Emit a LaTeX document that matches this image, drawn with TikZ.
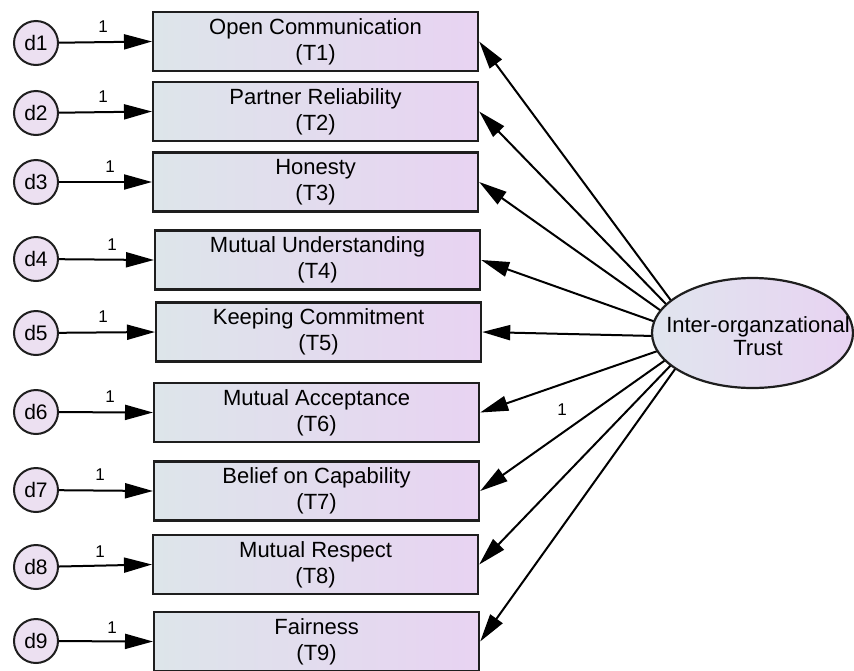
\documentclass[tikz,border=0pt]{standalone}
\usepackage{fontspec}
\setmainfont{Liberation Sans}
\usetikzlibrary{arrows.meta,shapes.geometric,backgrounds}
\definecolor{boxL}{HTML}{DDE5EA}
\definecolor{boxR}{HTML}{E8D3F2}
\definecolor{latL}{HTML}{E0E5EE}
\definecolor{latR}{HTML}{E8D3F2}
\definecolor{errfill}{HTML}{ECE0F1}
\definecolor{edge}{HTML}{1E1E1E}

\begin{document}
\begin{tikzpicture}[x=1pt,y=-1pt,
  obs/.style={draw=edge,line width=2.2pt,left color=boxL,right color=boxR,
    minimum width=325pt,minimum height=59pt,inner sep=0pt,align=center,
    anchor=west,font=\fontsize{22}{26}\selectfont},
  err/.style={circle,draw=edge,line width=2pt,fill=errfill,
    minimum size=44pt,inner sep=0pt,font=\fontsize{21}{25}\selectfont},
  lat/.style={ellipse,draw=edge,line width=2.2pt,left color=latL,right color=latR,
    minimum width=201pt,minimum height=110pt,inner sep=0pt},
  lattext/.style={align=center,inner sep=0pt,font=\fontsize{22}{23}\selectfont},
  reg/.style={line width=2pt,draw=black,-{Triangle[length=28pt,width=15pt]}},
  one/.style={inner sep=0pt,font=\fontsize{17}{17}\selectfont}]

\useasboundingbox (0,0) rectangle (854,670);

% observed indicators
\node[obs] (T1) at (152,41.5)  {Open Communication\\(T1)};
\node[obs] (T2) at (152,111.5) {Partner Reliability\\(T2)};
\node[obs] (T3) at (152,182)   {Honesty\\(T3)};
\node[obs] (T4) at (154,260)   {Mutual Understanding\\(T4)};
\node[obs] (T5) at (155,332)   {Keeping Commitment\\(T5)};
\node[obs] (T6) at (153,412.5) {Mutual Acceptance\\(T6)};
\node[obs] (T7) at (153,491)   {Belief on Capability\\(T7)};
\node[obs] (T8) at (152,564.5) {Mutual Respect\\(T8)};
\node[obs] (T9) at (153,641.5) {Fairness\\(T9)};

% error terms
\node[err] (d1) at (36,43)  {d1};
\node[err] (d2) at (36,113) {d2};
\node[err] (d3) at (36,182) {d3};
\node[err] (d4) at (36,259) {d4};
\node[err] (d5) at (36,333) {d5};
\node[err] (d6) at (36,412) {d6};
\node[err] (d7) at (36,490) {d7};
\node[err] (d8) at (36,567) {d8};
\node[err] (d9) at (36,641) {d9};

\foreach \i in {1,...,9} \draw[reg] (d\i) -- (T\i.west);

% fixed loadings of the error terms
\node[one] (l1) at (103,27)  {1};
\node[one] (l2) at (103,97)  {1};
\node[one] (l3) at (110,167) {1};
\node[one] (l4) at (112,245) {1};
\node[one] (l5) at (103,317) {1};
\node[one] (l6) at (110,397) {1};
\node[one] (l7) at (100,475) {1};
\node[one] (l8) at (100,552) {1};
\node[one] (l9) at (112,628) {1};

% latent factor
\node[lat] (F) at (752.5,333) {};
\node[lattext] (Ft) at (758,336) {Inter-organzational\\Trust};
\coordinate (Fc) at (698,337);

\begin{scope}[on background layer]
  \foreach \i in {1,...,9} \draw[reg] (Fc) -- (T\i.east);
\end{scope}

\node[one] (lf) at (562,410) {1};

\end{tikzpicture}
\end{document}
